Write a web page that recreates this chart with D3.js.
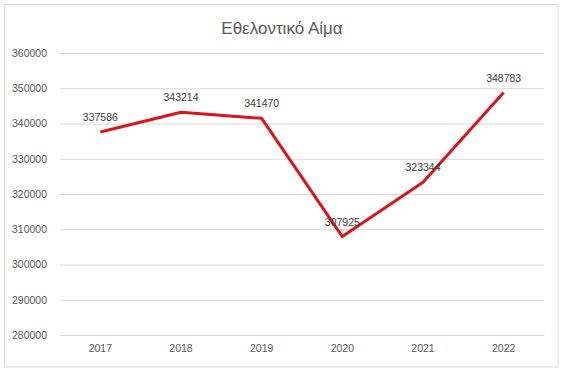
<!DOCTYPE html>
<html><head><meta charset="utf-8">
<script src="https://cdn.jsdelivr.net/npm/d3@7"></script>
<style>
body{margin:0;background:#fff;}
svg{display:block;font-family:"Liberation Sans",Arial,sans-serif;}
</style></head>
<body>
<svg id="chart" width="564" height="373"></svg>
<script>
const title = "Εθελοντικό Αίμα";
const years = ["2017","2018","2019","2020","2021","2022"];
const values = [337586, 343214, 341470, 307925, 323344, 348783];
const yTicks = [280000,290000,300000,310000,320000,330000,340000,350000,360000];

const svg = d3.select("#chart");
const W = 564, H = 373;
const m = {left:60, right:20, top:53, bottom:38};

svg.append("rect").attr("x",4.5).attr("y",4.5).attr("width",553.5).attr("height",362.5)
  .attr("fill","#fff").attr("stroke","#d9d9d9").attr("stroke-width",1);

svg.append("text").attr("x",282).attr("y",34).attr("text-anchor","middle")
  .attr("font-size",17).attr("fill","#595959").text(title);

const x = d3.scaleBand().domain(years).range([60,544]);
const y = d3.scaleLinear().domain([280000,360000]).range([335,53]);

const yAxis = svg.append("g").attr("transform","translate(60,0)")
  .call(d3.axisLeft(y).tickValues(yTicks).tickSize(-484).tickFormat(d3.format("d")).tickPadding(13));
yAxis.select(".domain").remove();
yAxis.selectAll(".tick line").attr("stroke","#d9d9d9").attr("stroke-width",1);
yAxis.selectAll(".tick text").attr("fill","#595959").attr("font-size",10.5)
  .attr("font-family","Liberation Sans, Arial, sans-serif");

const xAxis = svg.append("g").attr("transform","translate(0,335)")
  .call(d3.axisBottom(x).tickSize(0).tickPadding(10));
xAxis.select(".domain").attr("stroke","#d9d9d9");
xAxis.selectAll(".tick text").attr("fill","#595959").attr("font-size",10.5)
  .attr("font-family","Liberation Sans, Arial, sans-serif");

const line = d3.line().x((d,i)=>x(years[i])+x.bandwidth()/2).y(d=>y(d));
svg.append("path").datum(values).attr("d",line).attr("fill","none")
  .attr("stroke","#dc141c").attr("stroke-width",3).attr("stroke-linejoin","round");

svg.append("g").selectAll("text").data(values).join("text")
  .attr("x",(d,i)=>x(years[i])+x.bandwidth()/2)
  .attr("y",d=>y(d)-11)
  .attr("text-anchor","middle").attr("font-size",10.5).attr("fill","#404040")
  .text(d=>d);
</script>
</body></html>
